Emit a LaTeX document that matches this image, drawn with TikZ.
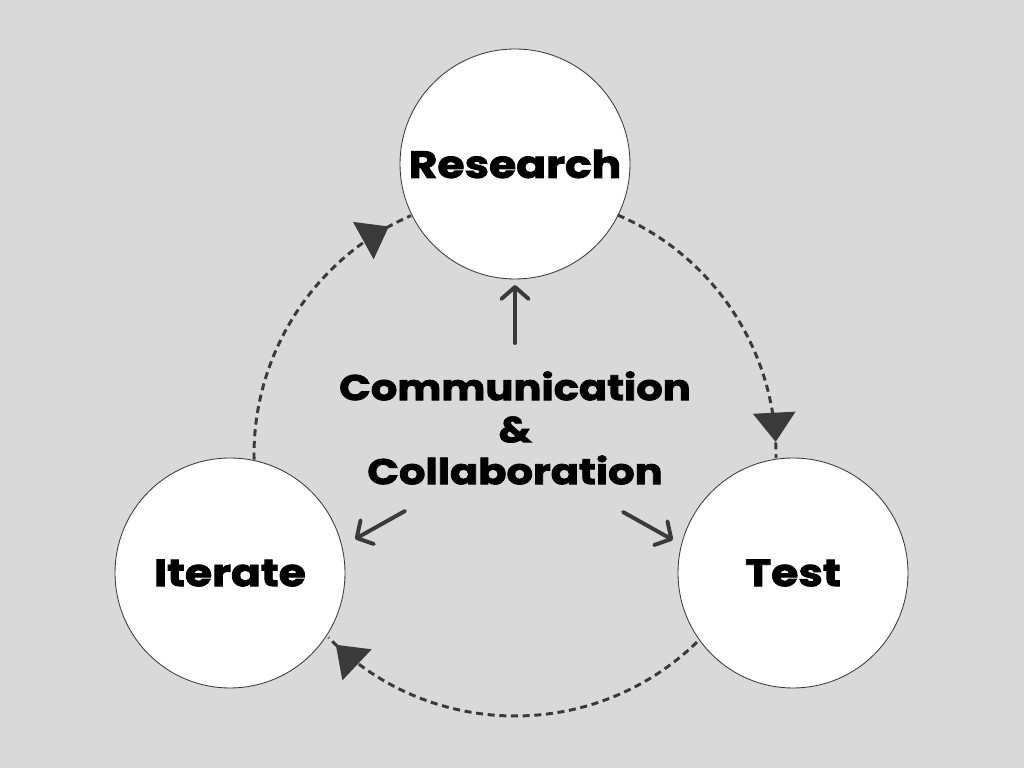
\documentclass[tikz,border=0pt]{standalone}
\usepackage{fontspec}
\setmainfont{Poppins}[BoldFeatures={FakeBold=2.2,FakeStretch=1.16}]
\usetikzlibrary{arrows.meta,decorations.markings}
\definecolor{bg}{HTML}{D9D9D9}
\definecolor{ink}{HTML}{3A3A3A}
\tikzset{
  stage/.style={circle,draw=ink,line width=0.6pt,fill=white,minimum size=5.75cm,inner sep=0pt},
  stagetext/.style={font=\bfseries\fontsize{27}{30}\selectfont,text=black},
  cycle/.style={draw=ink,line width=2.1pt,dash pattern=on 5pt off 3.3pt},
  push/.style={draw=ink,line width=2.8pt,line cap=round,
    -{Straight Barb[length=0.3cm,width=0.68cm,line cap=round,line join=round]}},
  tipat/.style={postaction={decorate,decoration={markings,
    mark=at position #1 with {\arrow[ink]{Triangle[length=0.73cm,width=1.05cm]}}}}}
}
\begin{document}
\begin{tikzpicture}
\fill[bg] (0,0) rectangle (25.6,19.2);
\useasboundingbox (0,0) rectangle (25.6,19.2);

\node[stage] (research) at (12.875,15.1) {};
\node[stage] (iterate) at (5.75,4.875) {};
\node[stage] (test) at (19.825,4.875) {};

\node[stagetext] (researchlbl) at (research.center) {Research};
\node[stagetext] (iteratelbl) at (iterate.center) {Iterate};
\node[stagetext] (testlbl) at (test.center) {Test};

\coordinate (hub) at (12.875,7.825);

\node[align=center,font=\bfseries\fontsize{25.5}{29.9}\selectfont] (center) at (12.875,8.5)
  {Communication\\\&\\Collaboration};

% dashed cycle
\draw[cycle,tipat=0.947] (hub) ++(66.8:6.525) arc[start angle=66.8,end angle=-0.7,radius=6.525];
\draw[cycle,tipat=0.975] (hub) ++(-45.8:6.525) arc[start angle=-45.8,end angle=-135.6,radius=6.525];
\draw[cycle,tipat=0.92] (hub) ++(181:6.525) arc[start angle=181,end angle=113.5,radius=6.525];

% straight arrows
\coordinate (upS) at (12.875,10.625);
\coordinate (upE) at (12.875,12.075);
\coordinate (lS) at (10.125,6.425);
\coordinate (lE) at (8.875,5.725);
\coordinate (rS) at (15.575,6.4);
\coordinate (rE) at (16.825,5.7);
\draw[push] (upS) -- (upE);
\draw[push] (lS) -- (lE);
\draw[push] (rS) -- (rE);
\end{tikzpicture}
\end{document}
